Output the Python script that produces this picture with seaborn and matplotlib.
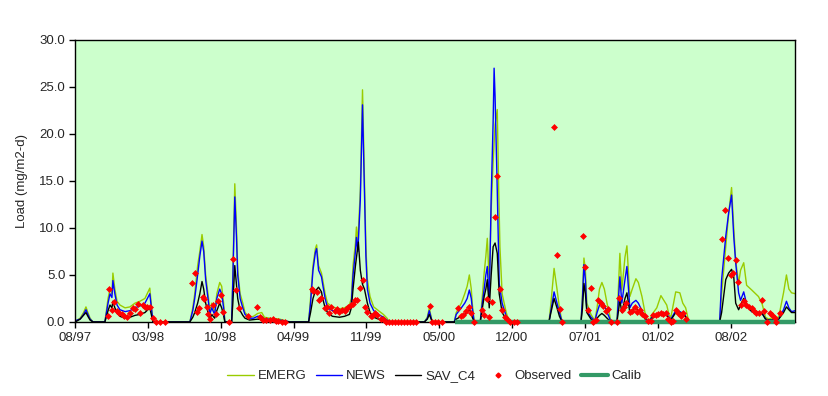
import matplotlib
matplotlib.use("Agg")
import matplotlib.pyplot as plt
import numpy as np
import pandas as pd
import seaborn as sns
from matplotlib.lines import Line2D

# time axis: weeks since 08/97 (category-style axis, label every 30 weeks)
tick_labels = ["08/97", "03/98", "10/98", "04/99", "11/99",
               "05/00", "12/00", "07/01", "01/02", "08/02"]

emerg_wk = [0, 0.8, 2.1, 3.5, 4.5, 5.3, 6.2, 7.4, 12.3, 13.6, 14.4, 15.2, 15.6, 16.4, 17.3, 18.5,
            20.6, 22.6, 24.7, 26.7, 28.8, 30.8, 32.1, 47.3, 48.5, 49.3, 50.5, 51.4, 52.3, 53.0,
            53.8, 55.0, 55.5, 56.3, 57.5, 58.4, 59.6, 60.4, 61.2, 61.7, 64.5, 65.0, 65.8, 66.5,
            67.0, 68.0, 69.1, 70.0, 71.9, 73.5, 75.2, 76.9, 78.0, 80.1, 84.3, 87.0, 88.4, 96.2,
            97.0, 98.0, 99.0, 99.5, 100.3, 101.5, 102.0, 103.0, 104.0, 106.0, 108.9, 111.0, 113.0,
            113.8, 114.5, 115.5, 115.9, 116.5, 117.5, 118.4, 119.2, 119.8, 120.4, 121.5, 123.0,
            125.0, 127.0, 128.5, 129.5, 143.9, 145.1, 145.9, 146.7, 147.1, 156.2, 157.0, 159.1,
            160.5, 161.5, 162.4, 163.2, 163.6, 164.4, 166.9, 167.5, 168.5, 169.2, 169.8, 170.6,
            171.4, 172.2, 173.0, 173.9, 174.5, 175.0, 175.9, 177.6, 178.8, 195.2, 196.0, 197.3,
            198.5, 199.5, 200.6, 208.4, 209.0, 209.6, 210.2, 210.8, 212.5, 213.7, 214.0, 215.0,
            216.0, 217.0, 218.0, 219.1, 220.0, 220.7, 223.2, 224.4, 225.2, 226.5, 227.3, 228.5,
            229.5, 231.0, 232.0, 233.5, 235.1, 236.3, 237.6, 239.6, 241.3, 242.5, 243.7, 244.6,
            245.4, 247.4, 249.1, 250.3, 251.5, 252.8, 265.5, 266.3, 268.0, 269.2, 270.4, 271.3,
            272.1, 273.3, 274.1, 275.4, 276.6, 278.7, 281.5, 283.0, 284.4, 285.7, 287.7, 289.8,
            291.8, 293.0, 294.0, 295.1, 296.7]
emerg = [0, 0.2, 0.4, 1.0, 1.6, 1.0, 0.4, 0, 0, 2.5, 3.5, 3.0, 5.2, 3.5, 2.2, 1.8,
         1.5, 1.6, 2.0, 2.2, 2.5, 3.6, 0, 0, 1.5, 3.0, 6.0, 7.5, 9.3, 8.0,
         5.0, 2.5, 1.0, 2.0, 1.0, 3.0, 4.2, 3.8, 2.0, 0, 0, 5.0, 14.7, 10.0,
         5.5, 3.0, 2.0, 1.0, 0.5, 0.6, 0.9, 1.0, 0.5, 0.4, 0.3, 0.1, 0, 0,
         2.5, 6.0, 7.8, 8.2, 6.0, 5.2, 4.5, 3.0, 2.0, 1.6, 1.4, 1.5, 1.8,
         2.5, 6.0, 8.4, 10.1, 8.5, 14.0, 24.7, 15.1, 8.0, 4.5, 2.7, 1.6,
         1.2, 0.8, 0.4, 0, 0, 0.5, 1.5, 0.5, 0, 0, 1.0, 2.0,
         3.0, 3.8, 5.0, 3.5, 2.0, 0, 0, 2.0, 5.2, 7.0, 8.9, 4.1,
         12.0, 17.0, 21.0, 22.6, 14.0, 8.0, 3.0, 1.0, 0, 0, 2.0, 5.7,
         3.5, 1.5, 0, 0, 3.0, 6.8, 5.5, 2.0, 0.8, 0.3, 0, 1.5,
         3.5, 4.2, 3.5, 2.0, 1.0, 0, 0, 7.3, 3.4, 6.9, 8.1, 2.7,
         3.5, 4.6, 4.2, 2.7, 0.5, 0, 0.8, 1.5, 2.8, 2.3, 1.8, 0.8,
         0.5, 3.2, 3.1, 2.0, 1.5, 0, 0, 3.0, 8.0, 11.5, 14.3, 10.0,
         6.5, 4.1, 5.5, 6.3, 3.9, 3.4, 2.7, 1.9, 0.5, 0.3, 0.5, 0.5,
         3.1, 5.0, 3.5, 3.1, 3.0]

news_wk = [0, 0.8, 2.1, 3.5, 4.5, 5.3, 6.2, 7.4, 12.3, 13.6, 14.4, 15.2, 15.6, 16.4, 17.3, 18.5,
           20.6, 22.6, 24.7, 26.7, 28.8, 30.8, 32.1, 47.3, 48.5, 49.3, 50.5, 51.4, 52.3, 53.0,
           53.8, 55.0, 55.5, 56.3, 57.5, 58.4, 59.6, 60.4, 61.2, 61.7, 64.5, 65.0, 65.8, 66.5,
           67.0, 68.0, 69.1, 70.0, 71.9, 73.5, 75.2, 76.9, 78.0, 80.1, 84.3, 87.0, 88.4, 96.2,
           97.0, 98.0, 99.0, 99.5, 100.3, 101.5, 102.0, 103.0, 104.0, 106.0, 108.9, 111.0, 113.0,
           113.8, 114.5, 115.5, 115.9, 116.5, 117.5, 118.4, 119.2, 119.8, 120.4, 121.5, 123.0,
           125.0, 127.0, 128.5, 129.5, 143.9, 145.1, 145.9, 146.7, 147.1, 156.2, 157.0, 159.1,
           160.5, 161.5, 162.4, 163.2, 163.6, 164.4, 166.9, 167.5, 168.5, 169.2, 169.8, 170.6,
           171.4, 172.2, 172.6, 173.0, 173.9, 174.7, 175.9, 177.6, 178.8, 195.2, 196.0, 197.3,
           198.5, 199.5, 200.6, 208.4, 209.0, 209.6, 210.2, 210.8, 212.5, 213.7, 214.0, 215.0,
           216.0, 217.0, 218.0, 219.1, 220.0, 220.7, 223.2, 224.4, 225.2, 226.5, 227.3, 228.5,
           229.5, 231.0, 232.0, 233.5, 235.1, 236.3, 237.6, 239.6, 241.3, 243.7, 245.4, 247.4,
           249.1, 251.0, 252.8, 265.5, 266.3, 268.0, 269.2, 270.4, 271.3, 272.1, 273.3, 274.1,
           275.4, 276.6, 278.7, 281.5, 283.0, 284.4, 285.7, 287.7, 289.8, 291.8, 293.0, 294.0,
           295.1, 296.7]
news = [0, 0.2, 0.3, 0.8, 1.3, 0.8, 0.3, 0, 0, 2.0, 3.0, 2.6, 4.4, 3.0, 1.8, 1.3,
        1.1, 1.2, 1.5, 1.7, 2.0, 3.0, 0, 0, 1.2, 2.5, 5.0, 7.0, 8.6, 7.5,
        4.5, 2.0, 0.8, 1.5, 0.8, 2.5, 3.5, 3.0, 1.5, 0, 0, 4.5, 13.3, 9.0,
        5.0, 2.5, 1.5, 0.8, 0.4, 0.4, 0.6, 0.6, 0.3, 0.3, 0.2, 0.1, 0, 0,
        2.0, 5.5, 7.4, 7.8, 5.5, 4.8, 4.0, 2.5, 1.5, 1.2, 1.0, 1.1, 1.4,
        2.0, 5.0, 7.5, 9.0, 7.5, 13.0, 23.1, 14.0, 7.0, 3.5, 2.0, 1.2,
        0.8, 0.5, 0.2, 0, 0, 0.4, 1.2, 0.4, 0, 0, 0.8, 1.5,
        2.0, 2.5, 3.4, 2.5, 1.5, 0, 0, 1.5, 3.5, 5.0, 5.9, 2.0,
        13.3, 21.3, 27.0, 24.0, 14.0, 4.1, 2.0, 0.6, 0, 0, 1.2, 3.2,
        2.0, 1.0, 0, 0, 2.5, 6.1, 4.5, 1.2, 0.5, 0.2, 0, 1.0,
        1.8, 2.2, 1.8, 1.0, 0.5, 0, 0, 4.8, 2.0, 4.5, 5.9, 1.5,
        2.0, 2.3, 2.0, 1.2, 0.3, 0, 0.5, 0.8, 0.9, 0.8, 0.3, 1.2,
        1.1, 0.8, 0, 0, 4.5, 9.1, 11.6, 13.5, 9.1, 6.3, 3.1, 2.3,
        3.2, 1.9, 1.1, 1.0, 0.9, 0.3, 0.2, 0.2, 0.3, 1.3, 2.2, 1.5,
        1.1, 1.2]

sav_wk = [0, 0.8, 2.1, 3.5, 4.5, 5.3, 6.2, 7.4, 12.3, 13.6, 14.4, 15.2, 15.6, 16.4, 17.3, 18.5,
          20.6, 22.6, 24.7, 26.7, 28.8, 30.8, 32.1, 47.3, 48.5, 49.3, 50.5, 51.4, 52.3, 53.0,
          53.8, 55.0, 55.5, 56.3, 57.5, 58.4, 59.6, 60.4, 61.2, 61.7, 64.5, 65.0, 65.8, 66.5,
          67.0, 68.0, 69.1, 70.0, 71.9, 75.2, 78.0, 84.3, 88.4, 96.2, 97.0, 98.0, 99.0, 100.3,
          101.5, 102.0, 103.0, 104.0, 106.0, 108.9, 111.0, 113.0, 113.8, 114.5, 115.5, 116.7,
          117.5, 118.4, 119.2, 120.4, 121.5, 123.0, 125.0, 127.0, 129.5, 143.9, 145.1, 145.9,
          146.7, 147.1, 156.2, 157.0, 159.1, 160.5, 161.5, 162.4, 163.2, 163.6, 164.4, 166.9,
          167.5, 168.5, 169.2, 169.8, 170.6, 171.4, 172.2, 173.0, 173.9, 174.7, 175.9, 177.6,
          178.8, 195.2, 196.0, 197.3, 198.5, 199.5, 200.6, 208.4, 209.0, 209.6, 210.2, 210.8,
          212.5, 214.0, 215.0, 216.0, 217.0, 218.0, 219.1, 220.7, 223.2, 224.4, 225.2, 226.5,
          227.3, 228.5, 229.5, 231.0, 232.0, 233.5, 235.1, 236.3, 237.6, 239.6, 241.3, 243.7,
          245.4, 247.4, 249.1, 251.0, 252.8, 265.5, 266.3, 268.0, 269.2, 270.4, 271.3, 272.1,
          273.3, 274.1, 275.4, 276.6, 278.7, 281.5, 283.0, 284.4, 285.7, 287.7, 289.8, 291.8,
          293.0, 294.0, 295.1, 296.7]
sav_c4 = [0, 0.1, 0.3, 0.7, 1.0, 0.6, 0.2, 0, 0, 1.2, 1.8, 1.5, 2.2, 1.5, 1.0, 0.6,
          0.4, 0.5, 0.7, 0.8, 1.0, 1.5, 0, 0, 0.5, 1.0, 2.0, 3.0, 4.3, 3.5,
          2.0, 0.8, 0.3, 0.8, 0.4, 1.2, 2.0, 1.5, 0.7, 0, 0, 2.0, 6.0, 4.0,
          2.5, 1.2, 0.7, 0.4, 0.2, 0.3, 0.2, 0.1, 0, 0, 1.0, 2.5, 3.3, 3.7,
          3.2, 2.5, 1.5, 1.0, 0.6, 0.5, 0.6, 0.8, 1.5, 3.5, 6.0, 8.5,
          5.5, 4.0, 3.5, 2.0, 1.0, 0.5, 0.3, 0.2, 0, 0, 0.3, 0.8,
          0.3, 0, 0, 0.3, 0.6, 0.8, 1.0, 1.3, 1.0, 0.5, 0, 0,
          1.0, 2.7, 3.5, 4.5, 1.5, 5.0, 8.0, 8.4, 7.3, 3.0, 1.0, 0.3,
          0, 0, 1.0, 2.5, 1.5, 0.6, 0, 0, 1.5, 4.1, 3.0, 1.0,
          0.3, 0, 0.4, 0.7, 0.9, 0.7, 0.4, 0, 0, 2.3, 1.0, 2.5,
          3.1, 1.0, 1.3, 1.5, 1.2, 0.8, 0.2, 0, 0.4, 0.7, 0.8, 0.7,
          0.2, 1.0, 1.0, 0.7, 0, 0, 1.0, 4.5, 5.2, 5.6, 4.8, 2.0,
          1.3, 1.8, 2.5, 1.8, 1.1, 1.0, 0.9, 0.3, 0.2, 0.2, 0.3, 1.0,
          1.6, 1.3, 1.0, 1.0]

obs_wk = [13.6, 14.0, 15.2, 16.0, 17.3, 18.1, 19.3, 20.1, 21.4, 22.6, 23.8, 24.7, 25.9, 26.7,
          27.9, 28.8, 29.6, 30.8, 32.1, 33.3, 34.9, 37.0,
          48.1, 49.3, 50.1, 51.0, 52.6, 53.0, 54.3, 54.7, 55.5, 56.7, 58.0, 58.8, 60.0, 60.8,
          63.3, 64.9, 66.2, 67.4,
          71.1, 74.8, 76.0, 77.3, 78.5, 80.1, 81.4, 82.6, 83.8, 85.1, 86.3,
          97.4, 98.2, 99.5, 100.3, 101.5, 102.8, 103.6, 104.4, 105.6, 106.9, 107.7, 108.9,
          110.1, 111.0, 111.8, 112.6, 113.8, 114.3, 115.5, 116.3, 117.5, 118.4, 119.6, 120.4,
          121.7, 122.5, 123.7, 124.5, 126.2, 127.0, 128.2, 129.5, 130.7, 131.9, 133.2, 134.4,
          135.6, 136.9, 138.1, 139.3, 140.6,
          146.3, 147.1, 148.4, 149.6, 151.2,
          157.8, 159.1, 159.9, 161.1, 162.3, 163.2, 164.4, 167.7, 168.5, 169.7, 170.6, 171.8,
          173.0, 173.9, 175.1, 175.9, 177.1, 178.0, 179.2, 180.8, 182.1,
          197.3, 198.5, 199.7, 200.6,
          209.2, 210.0, 211.3, 212.5, 213.3, 214.5, 215.4, 216.6, 217.4, 218.7, 219.5, 220.7,
          223.2, 224.0, 225.2, 226.1, 226.9, 228.5, 229.3, 230.6, 231.4, 232.6, 233.4, 234.7,
          235.9, 237.1, 238.0, 239.2, 240.0, 241.3, 242.1, 243.3, 244.1, 245.4, 246.2, 247.4,
          248.2, 249.5, 250.3, 251.5,
          266.3, 267.6, 268.8, 270.0, 270.8, 272.1, 272.9, 274.1, 275.4, 276.2, 277.4, 278.7,
          279.5, 280.3, 281.5, 282.8, 283.6, 284.8, 286.1, 286.9, 288.1, 288.9, 290.2]
observed = [0.6, 3.5, 1.3, 2.1, 1.2, 1.0, 0.8, 0.6, 0.5, 1.0, 1.5, 1.4, 1.9, 1.0,
            1.8, 1.6, 1.6, 1.6, 0.4, 0, 0, 0,
            4.1, 5.2, 1.1, 1.5, 2.7, 2.4, 1.6, 0.8, 0.3, 1.8, 0.8, 2.2, 2.9, 1.1,
            0, 6.7, 3.4, 1.5,
            0.6, 1.6, 0.5, 0.2, 0.2, 0.2, 0.3, 0.1, 0.1, 0, 0,
            3.5, 3.3, 3.2, 2.3, 2.6, 1.5, 1.6, 1.0, 1.6, 1.2, 1.4, 1.1,
            1.3, 1.2, 1.4, 1.6, 1.8, 1.9, 2.3, 2.3, 3.6, 4.5, 1.6, 1.1,
            0.6, 0.6, 0.9, 0.7, 0.3, 0.3, 0, 0, 0, 0, 0, 0,
            0, 0, 0, 0, 0,
            1.7, 0, 0, 0, 0,
            1.5, 0.6, 0.7, 1.2, 1.6, 0.9, 0, 1.3, 0.7, 2.4, 0.5, 2.1,
            11.2, 15.5, 3.5, 1.3, 0.5, 0.3, 0, 0, 0,
            20.7, 7.1, 1.4, 0,
            9.1, 5.8, 1.3, 3.6, 0, 0.2, 2.3, 2.0, 1.7, 1.2, 1.4, 0,
            0, 2.6, 1.3, 1.6, 2.0, 1.1, 1.2, 1.6, 1.1, 1.3, 0.8, 0.6,
            0.1, 0.1, 0.7, 0.7, 0.8, 0.9, 0.8, 0.9, 0.3, 0, 0.1, 1.3,
            0.9, 0.6, 0.9, 0.35,
            8.8, 11.9, 6.8, 5.0, 5.2, 6.6, 4.2, 1.8, 2.2, 1.8, 1.6, 1.5,
            1.2, 1.0, 1.0, 2.3, 1.2, 0, 1.0, 0.7, 0.4, 0, 0.9]

calib_wk = [156.6, 296.7]
calib = [0, 0]

colors = {"EMERG": "#99CC00", "NEWS": "#0000FF", "SAV_C4": "#000000"}

models = pd.concat([
    pd.DataFrame({"week": emerg_wk, "load": emerg, "series": "EMERG"}),
    pd.DataFrame({"week": news_wk, "load": news, "series": "NEWS"}),
    pd.DataFrame({"week": sav_wk, "load": sav_c4, "series": "SAV_C4"}),
], ignore_index=True)
obs = pd.DataFrame({"week": obs_wk, "load": observed})
cal = pd.DataFrame({"week": calib_wk, "load": calib})

sns.set_theme(style="ticks")
plt.rcParams["font.family"] = ["Liberation Sans", "DejaVu Sans"]

fig = plt.figure(figsize=(8.29, 3.96), dpi=100)
ax = fig.add_axes([0.0905, 0.187, 0.869, 0.712])
ax.set_facecolor("#CCFFCC")

sns.lineplot(data=models, x="week", y="load", hue="series", palette=colors,
             hue_order=["EMERG", "NEWS", "SAV_C4"], estimator=None, sort=False,
             linewidth=1, ax=ax, legend=False, zorder=3)
sns.lineplot(data=cal, x="week", y="load", color="#339966", linewidth=3.2,
             ax=ax, zorder=3.5, clip_on=False, solid_capstyle="butt")
sns.scatterplot(data=obs, x="week", y="load", color="#FF0000", marker="D", s=9,
                edgecolor="#FF0000", linewidth=0.5, ax=ax, zorder=4, clip_on=False)

ax.set_xlim(0, 296.7)
ax.set_ylim(0, 30)
ax.set_xticks(np.arange(len(tick_labels)) * 30)
ax.set_xticklabels(tick_labels)
ax.set_yticks(np.arange(0, 31, 5))
ax.set_yticklabels([f"{v:.1f}" for v in np.arange(0, 31, 5)])
ax.set_xlabel("")
ax.set_ylabel("Load (mg/m2-d)", fontsize=9.5, labelpad=8)
ax.tick_params(axis="both", labelsize=9.5, length=4, width=1, color="black",
               direction="out", pad=3)
for s in ax.spines.values():
    s.set_color("black")
    s.set_linewidth(1)
    s.set_zorder(3.2)

handles = [
    Line2D([], [], color=colors["EMERG"], lw=1),
    Line2D([], [], color=colors["NEWS"], lw=1),
    Line2D([], [], color=colors["SAV_C4"], lw=1),
    Line2D([], [], color="#FF0000", marker="D", ms=2.5, lw=0),
    Line2D([], [], color="#339966", lw=3),
]
fig.legend(handles, ["EMERG", "NEWS", "SAV_C4", "Observed", "Calib"],
           loc="center", bbox_to_anchor=(0.524, 0.05), ncol=5, frameon=False,
           fontsize=9.5, handlelength=2.0, handletextpad=0.3, columnspacing=0.7)

fig.savefig("out.png", dpi=100)
